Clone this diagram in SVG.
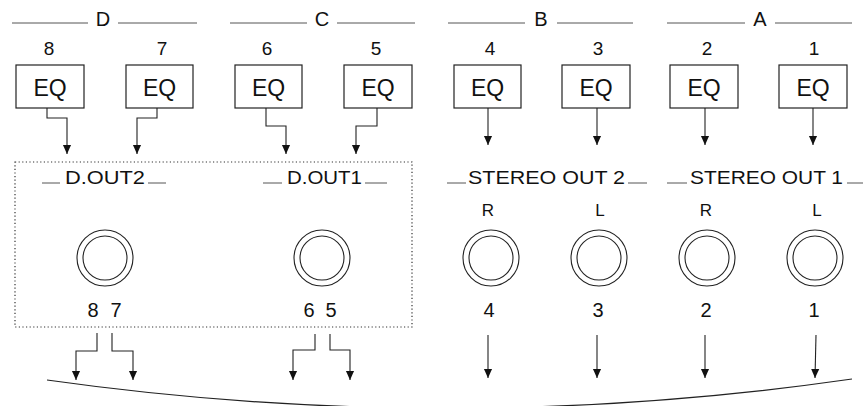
<svg xmlns="http://www.w3.org/2000/svg" width="865" height="406" viewBox="0 0 865 406">
<defs>
<style>
.t{font-family:"Liberation Sans",Arial,sans-serif;fill:#111;text-anchor:middle}
.hd{font-size:20px}
.num{font-size:19px}
.eq{font-size:23px}
.lbl{font-size:18px}
.rl{font-size:17px}
.bn{font-size:20px}
.box{fill:#fff;stroke:#222;stroke-width:1.2}
.rule{stroke:#555;stroke-width:1;fill:none}
.jack{fill:none;stroke:#222;stroke-width:1.1}
.wire{fill:none;stroke:#222;stroke-width:1.1;marker-end:url(#ah)}
.frame{fill:none;stroke:#333;stroke-width:1.2;stroke-dasharray:1.2 2.4}
</style>
<marker id="ah" markerUnits="userSpaceOnUse" markerWidth="9" markerHeight="10" refX="10" refY="4.5" orient="auto" viewBox="0 0 10 9">
<path d="M0,0 L10,4.5 L0,9 z" fill="#111"/>
</marker>
</defs>
<rect width="865" height="406" fill="#fff"/>

<g id="headers">
<line class="rule" x1="12" y1="23" x2="88" y2="23"/><line class="rule" x1="118" y1="23" x2="197" y2="23"/>
<text class="t hd" x="103" y="26">D</text>
<line class="rule" x1="230" y1="23" x2="307" y2="23"/><line class="rule" x1="337" y1="23" x2="415" y2="23"/>
<text class="t hd" x="322" y="26">C</text>
<line class="rule" x1="448" y1="23" x2="525" y2="23"/><line class="rule" x1="557" y1="23" x2="633" y2="23"/>
<text class="t hd" x="541" y="26">B</text>
<line class="rule" x1="667" y1="23" x2="745" y2="23"/><line class="rule" x1="775" y1="23" x2="852" y2="23"/>
<text class="t hd" x="760" y="26">A</text>
</g>

<g id="eq8"><text class="t num" x="49" y="55">8</text><rect class="box" x="16" y="65" width="68" height="43"/><text class="t eq" x="50" y="96">EQ</text></g>
<g id="eq7"><text class="t num" x="162" y="55">7</text><rect class="box" x="126" y="65" width="67" height="43"/><text class="t eq" x="159.5" y="96">EQ</text></g>
<g id="eq6"><text class="t num" x="267" y="55">6</text><rect class="box" x="235" y="65" width="67" height="43"/><text class="t eq" x="268.5" y="96">EQ</text></g>
<g id="eq5"><text class="t num" x="376" y="55">5</text><rect class="box" x="344" y="65" width="68" height="43"/><text class="t eq" x="378" y="96">EQ</text></g>
<g id="eq4"><text class="t num" x="490" y="55">4</text><rect class="box" x="454" y="65" width="67" height="43"/><text class="t eq" x="487.5" y="96">EQ</text></g>
<g id="eq3"><text class="t num" x="598" y="55">3</text><rect class="box" x="562" y="65" width="68" height="43"/><text class="t eq" x="596" y="96">EQ</text></g>
<g id="eq2"><text class="t num" x="707" y="55">2</text><rect class="box" x="670" y="65" width="68" height="43"/><text class="t eq" x="704" y="96">EQ</text></g>
<g id="eq1"><text class="t num" x="814" y="55">1</text><rect class="box" x="779" y="65" width="68" height="43"/><text class="t eq" x="813" y="96">EQ</text></g>

<g id="dout-panel">
<rect class="frame" x="15" y="162" width="397" height="165"/>
</g>

<g id="dout2">
<line class="rule" x1="42" y1="183" x2="60" y2="183"/><line class="rule" x1="148" y1="183" x2="166" y2="183"/>
<text class="t lbl" x="105" y="184" textLength="80" lengthAdjust="spacingAndGlyphs">D.OUT2</text>
<circle class="jack" cx="105" cy="258" r="28"/><circle class="jack" cx="105" cy="258" r="22"/>
<text class="t bn" x="93" y="317">8</text><text class="t bn" x="116" y="317">7</text>
</g>
<g id="dout1">
<line class="rule" x1="263" y1="183" x2="282" y2="183"/><line class="rule" x1="365" y1="183" x2="387" y2="183"/>
<text class="t lbl" x="324.5" y="184" textLength="75" lengthAdjust="spacingAndGlyphs">D.OUT1</text>
<circle class="jack" cx="322" cy="258" r="28"/><circle class="jack" cx="322" cy="258" r="22"/>
<text class="t bn" x="309" y="317">6</text><text class="t bn" x="331" y="317">5</text>
</g>

<g id="stereo2">
<line class="rule" x1="447" y1="183" x2="466" y2="183"/><line class="rule" x1="628" y1="183" x2="647" y2="183"/>
<text class="t lbl" x="546.5" y="184" textLength="157" lengthAdjust="spacingAndGlyphs">STEREO OUT 2</text>
</g>
<g id="jack4"><text class="t rl" x="488" y="216">R</text><circle class="jack" cx="491" cy="258" r="28"/><circle class="jack" cx="491" cy="258" r="22"/><text class="t bn" x="489" y="317">4</text></g>
<g id="jack3"><text class="t rl" x="600" y="216">L</text><circle class="jack" cx="599" cy="258" r="28"/><circle class="jack" cx="599" cy="258" r="22"/><text class="t bn" x="598" y="317">3</text></g>
<g id="stereo1">
<line class="rule" x1="667" y1="183" x2="687" y2="183"/><line class="rule" x1="847" y1="183" x2="863" y2="183"/>
<text class="t lbl" x="766.5" y="184" textLength="153" lengthAdjust="spacingAndGlyphs">STEREO OUT 1</text>
</g>
<g id="jack2"><text class="t rl" x="706" y="216">R</text><circle class="jack" cx="707" cy="258" r="28"/><circle class="jack" cx="707" cy="258" r="22"/><text class="t bn" x="706" y="317">2</text></g>
<g id="jack1"><text class="t rl" x="817" y="216">L</text><circle class="jack" cx="815" cy="258" r="28"/><circle class="jack" cx="815" cy="258" r="22"/><text class="t bn" x="814" y="317">1</text></g>

<g id="connectors">
<path class="wire" d="M47,108 V118 H67 V154"/>
<path class="wire" d="M157,108 V118 H137 V154"/>
<path class="wire" d="M266,108 V126 H286 V154"/>
<path class="wire" d="M377,108 V126 H356 V154"/>
<path class="wire" d="M488,108 V145"/>
<path class="wire" d="M597,108 V145"/>
<path class="wire" d="M705,108 V145"/>
<path class="wire" d="M813,108 V145"/>
<path class="wire" d="M97,333 V351 H76 V380"/>
<path class="wire" d="M112,333 V351 H133 V380"/>
<path class="wire" d="M315,334 V350 H293 V380"/>
<path class="wire" d="M330,334 V350 H350 V380"/>
<path class="wire" d="M488,335 V378"/>
<path class="wire" d="M597,335 V378"/>
<path class="wire" d="M705,335 V378"/>
<path class="wire" d="M816,335 L815,378"/>
<path d="M47,380 Q449.5,437 852,379" fill="none" stroke="#222" stroke-width="1.2"/>
</g>
</svg>
